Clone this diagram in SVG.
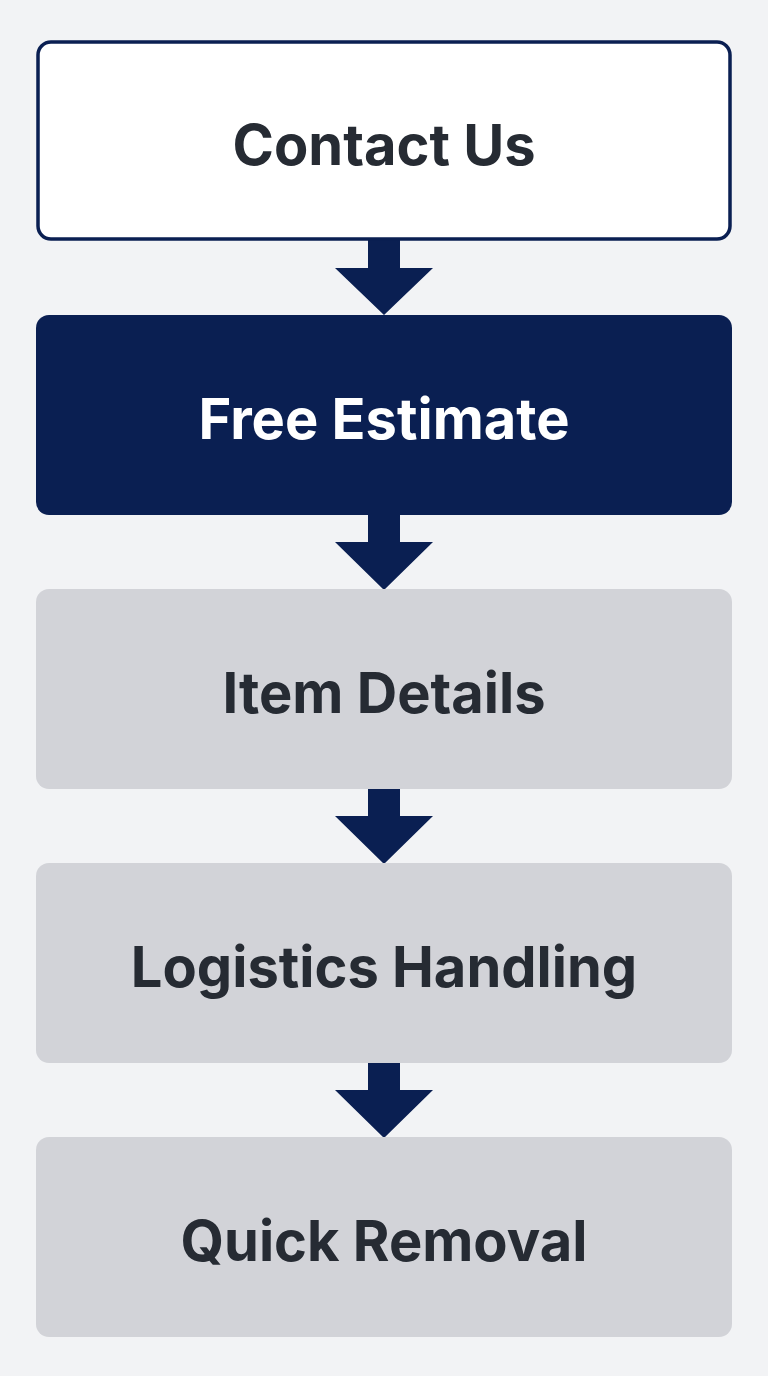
<svg xmlns="http://www.w3.org/2000/svg" width="768" height="1376" viewBox="0 0 768 1376">
<style>
.t{font-family:Inter,"Liberation Sans",sans-serif;font-weight:700;font-size:56px;text-anchor:middle;fill:#262b33}
.g{fill:#d2d3d8}
.a{fill:#0a1f52}
</style>
<rect width="768" height="1376" fill="#f2f3f5"/>
<g id="connectors" class="a">
<polygon points="368,238 400,238 400,268 433,268 384,315 335,268 368,268"/>
<polygon points="368,513 400,513 400,542 433,542 384,590 335,542 368,542"/>
<polygon points="368,787 400,787 400,816 433,816 384,864 335,816 368,816"/>
<polygon points="368,1061 400,1061 400,1090 433,1090 384,1138 335,1090 368,1090"/>
</g>
<g id="n1"><rect x="38" y="42" width="692" height="197" rx="13" fill="#fff" stroke="#0a1f52" stroke-width="3.5"/><text class="t" x="384" y="165">Contact Us</text></g>
<g id="n2"><rect x="36" y="315" width="696" height="200" rx="13" class="a"/><text class="t" x="384" y="439" fill="#fff" style="fill:#fff">Free Estimate</text></g>
<g id="n3"><rect x="36" y="589" width="696" height="200" rx="13" class="g"/><text class="t" x="384" y="713">Item Details</text></g>
<g id="n4"><rect x="36" y="863" width="696" height="200" rx="13" class="g"/><text class="t" x="384" y="987">Logistics Handling</text></g>
<g id="n5"><rect x="36" y="1137" width="696" height="200" rx="13" class="g"/><text class="t" x="384" y="1261">Quick Removal</text></g>
</svg>
